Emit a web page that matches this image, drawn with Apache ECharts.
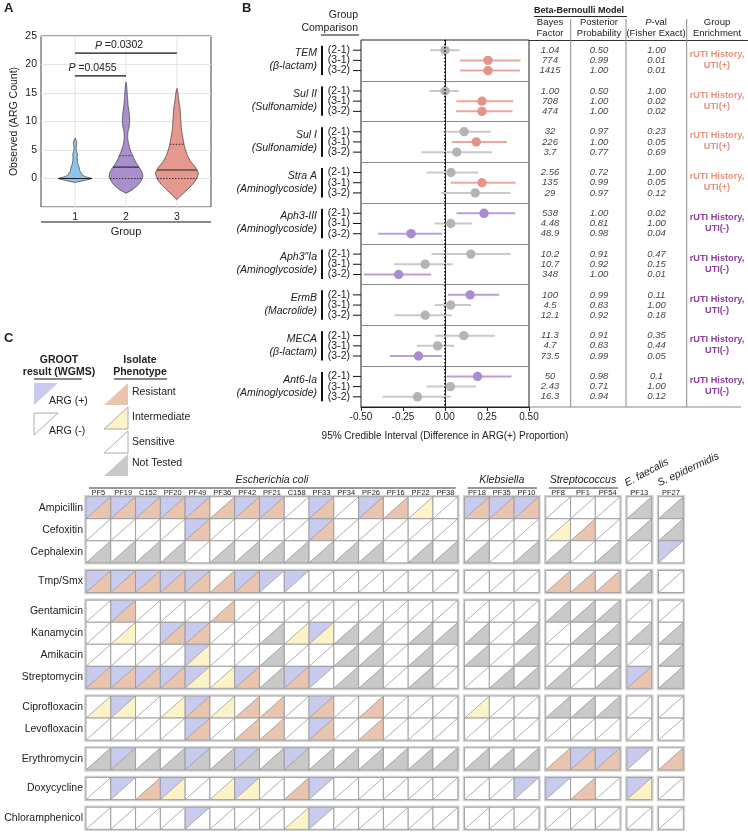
<!DOCTYPE html>
<html>
<head>
<meta charset="utf-8">
<script src="https://cdn.jsdelivr.net/npm/echarts@6/dist/echarts.min.js"></script>
<style>
html, body { margin: 0; padding: 0; background: #fff; }
#chart { width: 748px; height: 838px; }
</style>
</head>
<body>
<div id="chart"></div>
<script>
const FONT = '"Liberation Sans", Arial, Helvetica, sans-serif';
const INK = '#222';

// ---------- A: ARG count per group (violins) ----------
const groupIds = [1, 2, 3];
const violinFill = ['#8fc4ea', '#a98fcb', '#e4988e'];
// violin outline: ARG count levels and half widths (group units)
const violinLevels = [
  [-0.7, -0.3, 0, 0.3, 0.7, 1.0, 1.4, 1.8, 2.2, 2.7, 3.2, 3.7, 4.2, 4.7, 5.2, 5.7, 6.2, 6.7, 7.1],
  [-2.6, -2.0, -1.2, -0.5, 0.3, 1.0, 1.8, 2.6, 3.4, 4.2, 5.0, 5.8, 6.6, 7.4, 8.2, 9.0, 9.8, 10.6, 11.4, 12.2, 13.0, 13.8, 14.6, 15.4, 16.2, 16.9],
  [-3.7, -3.0, -2.0, -1.0, 0, 1.0, 2.0, 3.0, 4.0, 5.0, 6.0, 7.0, 8.0, 9.0, 10.0, 11.0, 12.0, 13.0, 14.0, 15.0, 15.8]
];
const violinHalfWidths = [
  [0, 0.20, 0.33, 0.21, 0.13, 0.12, 0.09, 0.085, 0.07, 0.05, 0.045, 0.04, 0.045, 0.033, 0.02, 0.026, 0.033, 0.02, 0],
  [0, 0.12, 0.23, 0.29, 0.33, 0.32, 0.27, 0.21, 0.16, 0.12, 0.085, 0.06, 0.04, 0.033, 0.04, 0.06, 0.07, 0.07, 0.065, 0.05, 0.04, 0.033, 0.026, 0.02, 0.013, 0],
  [0, 0.08, 0.20, 0.31, 0.39, 0.42, 0.36, 0.27, 0.21, 0.17, 0.14, 0.12, 0.10, 0.085, 0.08, 0.07, 0.065, 0.05, 0.033, 0.02, 0]
];
const violinMedian = [0, 2, 1.5];
const violinQ1 = [0, 0, 0];
const violinQ3 = [0, 4, 6];
const testFrom = [1, 1];
const testTo = [2, 3];
const testLevel = [18, 22];
const testP = ['0.0455', '0.0302'];

// ---------- B: Beta-Bernoulli model ----------
const genes = ['TEM', 'Sul II', 'Sul I', 'Stra A', 'Aph3-III', 'Aph3\u2033Ia', 'ErmB', 'MECA', 'Ant6-Ia'];
const geneClass = ['(\u03b2-lactam)', '(Sulfonamide)', '(Sulfonamide)', '(Aminoglycoside)', '(Aminoglycoside)',
  '(Aminoglycoside)', '(Macrolide)', '(\u03b2-lactam)', '(Aminoglycoside)'];
const comparisons = ['(2-1)', '(3-1)', '(3-2)'];
const diffMean = [0.00, 0.256, 0.256, 0.00, 0.22, 0.22, 0.114, 0.186, 0.07, 0.036, 0.22, 0.18,
  0.232, 0.034, -0.202, 0.154, -0.118, -0.276, 0.15, 0.034, -0.118, 0.112, -0.044, -0.158, 0.194, 0.032, -0.164];
const diffLow = [-0.088, 0.09, 0.09, -0.092, 0.068, 0.066, -0.01, 0.04, -0.14, -0.11, 0.034, -0.022,
  0.068, -0.062, -0.398, -0.08, -0.304, -0.482, 0.018, -0.06, -0.30, -0.058, -0.168, -0.328, 0.01, -0.11, -0.372];
const diffHigh = [0.086, 0.45, 0.446, 0.082, 0.406, 0.402, 0.272, 0.368, 0.28, 0.198, 0.42, 0.39,
  0.418, 0.16, -0.018, 0.39, 0.046, -0.082, 0.322, 0.154, 0.04, 0.298, 0.054, -0.02, 0.396, 0.184, 0.034];
// 0 = not enriched, 1 = UTI(+), 2 = UTI(-)
const enrichedFlag = [0, 1, 1, 0, 1, 1, 0, 1, 0, 0, 1, 0, 2, 0, 2, 0, 0, 2, 2, 0, 0, 0, 0, 2, 2, 0, 0];
const bayesFactor = ['1.04', '774', '1415', '1.00', '708', '474', '32', '226', '3.7', '2.56', '135', '29',
  '538', '4.48', '48.9', '10.2', '10.7', '348', '100', '4.5', '12.1', '11.3', '4.7', '73.5', '50', '2.43', '16.3'];
const posteriorProb = ['0.50', '0.99', '1.00', '0.50', '1.00', '1.00', '0.97', '1.00', '0.77', '0.72', '0.99', '0.97',
  '1.00', '0.81', '0.98', '0.91', '0.92', '1.00', '0.99', '0.83', '0.92', '0.91', '0.83', '0.99', '0.98', '0.71', '0.94'];
const fisherP = ['1.00', '0.01', '0.01', '1.00', '0.02', '0.02', '0.23', '0.05', '0.69', '1.00', '0.05', '0.12',
  '0.02', '1.00', '0.04', '0.47', '0.15', '0.01', '0.11', '1.00', '0.18', '0.35', '0.44', '0.05', '0.1', '1.00', '0.12'];
const geneEnrichment = ['UTI(+)', 'UTI(+)', 'UTI(+)', 'UTI(+)', 'UTI(-)', 'UTI(-)', 'UTI(-)', 'UTI(-)', 'UTI(-)'];

// ---------- C: GROOT result vs isolate phenotype ----------
const isolates = ['PF5', 'PF19', 'C152', 'PF20', 'PF49', 'PF36', 'PF42', 'PF21', 'C158', 'PF33', 'PF34', 'PF26', 'PF16', 'PF22', 'PF38',
  'PF18', 'PF35', 'PF10', 'PF8', 'PF1', 'PF54', 'PF13', 'PF27'];
const species = ['Escherichia coli', 'Klebsiella', 'Streptococcus', 'E. faecalis', 'S. epidermidis'];
const speciesSize = [15, 3, 3, 1, 1];
const antibiotics = ['Ampicillin', 'Cefoxitin', 'Cephalexin', 'Tmp/Smx', 'Gentamicin', 'Kanamycin', 'Amikacin',
  'Streptomycin', 'Ciprofloxacin', 'Levofloxacin', 'Erythromycin', 'Doxycycline', 'Chloramphenicol'];
const antibioticBlockSize = [3, 1, 4, 2, 1, 1, 1];
// one character per isolate: + ARG detected, - not detected
const argCalls = [
  '+++++-++-+-+---+++-----',
  '----+----+-------------',
  '----------------------+',
  '+++++-+++--------------',
  '-+---------------------',
  '---++----+-------------',
  '----+------------------',
  '+++++-+-++-----------+-',
  '-+--+----+-------------',
  '----+----+-------------',
  '-+--+-+-+----------+++-',
  '-+-+--+--+-------++--+-',
  '----+----+-------------'
];
// R resistant, I intermediate, S sensitive, N not tested
const phenotypes = [
  'RRRRRRRRSRSRRISRRRSSSNN',
  'SSSSRSSSSRSSSSSSSSIRSNN',
  'NNNNSNNNNNNNSNNNSNNSNSS',
  'RRRRRRRSSSSSSSSSSSRRRNS',
  'SRSSSRSSSSSSSSSSSSNNNSS',
  'SISRRSSNIINNSNNNSNSNNNN',
  'SSSSISSNSSNNSNSNSNSNNSN',
  'RRRRIIRNRSNNSNSSNNNSNRN',
  'IISIRIRRSRSRSSSISSNNNSS',
  'SSSSRSRRSRSRSSSSSSSSSSS',
  'NNNNNNNNNNNNNNNNNNRRRSR',
  'SSRISIISRSSSSSSSSSSRSIS',
  'SSSSSSSSISSSSSSSSSSSSSS'
];

const argFill = { '+': '#c8cbed', '-': '#ffffff' };
const phenoFill = { R: '#e9c4ae', I: '#fcf3c8', S: '#ffffff', N: '#c9c9c9' };
const COL_GAP = 0.275;
const ROW_GAP = 0.35;

function groupOf(sizes, idx) {
  let acc = 0;
  for (let g = 0; g < sizes.length; g++) {
    acc += sizes[g];
    if (idx < acc) return g;
  }
  return sizes.length - 1;
}
const colPos = c => c + groupOf(speciesSize, c) * COL_GAP;
const rowPos = r => r + groupOf(antibioticBlockSize, r) * ROW_GAP;
const gridUnitsX = isolates.length + (speciesSize.length - 1) * COL_GAP;
const gridUnitsY = antibiotics.length + (antibioticBlockSize.length - 1) * ROW_GAP;

function halfWidthAt(levels, widths, y) {
  for (let j = 0; j < levels.length - 1; j++) {
    if (y >= levels[j] && y <= levels[j + 1]) {
      const t = (y - levels[j]) / (levels[j + 1] - levels[j]);
      return widths[j] + t * (widths[j + 1] - widths[j]);
    }
  }
  return 0;
}

function txt(x, y, text, extra) {
  return Object.assign({ type: 'text', x: x, y: y, silent: true,
    style: Object.assign({ text: text, fill: INK, fontSize: 10.5, fontFamily: FONT, align: 'left', verticalAlign: 'middle' }, extra || {}) });
}
function seg(x1, y1, x2, y2, stroke, w) {
  return { type: 'line', silent: true, shape: { x1: x1, y1: y1, x2: x2, y2: y2 }, style: { stroke: stroke, lineWidth: w } };
}

// forest rows: 4 slots per gene, slot 0 is the separator
const forestSlots = [];
for (let g = 0; g <= genes.length * 4; g++) forestSlots.push(g % 4 === 0 ? '' : comparisons[g % 4 - 1]);
const forestData = diffMean.map((m, i) => [m, Math.floor(i / 3) * 4 + (i % 3) + 1, diffLow[i], diffHigh[i]]);
const dotColor = ['#b4b4b4', '#e3958b', '#a98bd1'];
const barColor = ['#c9c9c9', '#eba79f', '#b99fdc'];
const enrichColor = { 'UTI(+)': '#e8927f', 'UTI(-)': '#8e3f9f' };

// cells
const cellData = [];
const cellInfo = [];
antibiotics.forEach((ab, r) => {
  isolates.forEach((iso, c) => {
    cellData.push([colPos(c), rowPos(r)]);
    cellInfo.push([argCalls[r][c], phenotypes[r][c]]);
  });
});
const blockData = [];
speciesSize.forEach((sw, s) => {
  const c0 = speciesSize.slice(0, s).reduce((a, b) => a + b, 0);
  antibioticBlockSize.forEach((rh, b) => {
    const r0 = antibioticBlockSize.slice(0, b).reduce((a, b2) => a + b2, 0);
    blockData.push([colPos(c0), rowPos(r0), sw, rh]);
  });
});

const chart = echarts.init(document.getElementById('chart'));

const legendTri = (pts, fill, stroke) => ({ type: 'polygon', silent: true, shape: { points: pts },
  style: { fill: fill, stroke: stroke || null, lineWidth: 0.8 } });

const option = {
  animation: false,
  textStyle: { fontFamily: FONT },
  grid: [
    { left: 41, top: 36, width: 170, height: 171, show: true, borderColor: '#444', borderWidth: 1, backgroundColor: 'transparent' },
    { left: 361, top: 40, width: 168, height: 367, show: true, borderColor: '#222', borderWidth: 1, backgroundColor: 'transparent' },
    { left: 529, top: 40, width: 219, height: 367, show: false },
    { left: 86, top: 496.7, width: 597.3, height: 332.6, show: false }
  ],
  xAxis: [
    { type: 'value', gridIndex: 0, min: 0.33, max: 3.67,
      axisLine: { show: false }, axisTick: { show: true, customValues: groupIds, length: 3, lineStyle: { color: '#444' } },
      axisLabel: { customValues: groupIds, color: INK, fontSize: 10.5, margin: 5 },
      splitLine: { show: false } },
    { type: 'value', gridIndex: 1, min: -0.5, max: 0.5, interval: 0.25,
      axisLine: { show: true, lineStyle: { color: '#222' } }, axisTick: { show: true, length: 4, lineStyle: { color: '#222' } },
      axisLabel: { color: INK, fontSize: 10, margin: 5, formatter: v => v.toFixed(2) },
      splitLine: { show: false },
      name: '95% Credible Interval (Difference in ARG(+) Proportion)', nameLocation: 'middle', nameGap: 24,
      nameTextStyle: { color: INK, fontSize: 10 } },
    { type: 'value', gridIndex: 2, min: 0, max: 219, show: false },
    { type: 'value', gridIndex: 3, min: 0, max: gridUnitsX, show: false }
  ],
  yAxis: [
    { type: 'value', gridIndex: 0, min: -5, max: 25, interval: 5,
      axisLine: { show: false }, axisTick: { show: false },
      axisLabel: { color: INK, fontSize: 10.5, margin: 4, formatter: v => (v < 0 ? '' : String(v)) },
      splitLine: { show: true, lineStyle: { color: '#e4e4e4' } },
      name: 'Observed (ARG Count)', nameLocation: 'middle', nameGap: 21, nameTextStyle: { color: INK, fontSize: 10.5 } },
    { type: 'category', gridIndex: 1, data: forestSlots, boundaryGap: false, inverse: true,
      axisLine: { show: true, lineStyle: { color: '#222' } },
      axisTick: { show: false }, axisLabel: { show: false },
      splitLine: { show: true, interval: (i, v) => v === '' && i > 0 && i < forestSlots.length - 1, lineStyle: { color: '#8a8a8a' } } },
    { type: 'category', gridIndex: 2, data: forestSlots, boundaryGap: false, inverse: true, show: false },
    { type: 'value', gridIndex: 3, min: 0, max: gridUnitsY, inverse: true, show: false }
  ],
  series: [
    // ---- A: vertical grid lines at each group ----
    { type: 'custom', xAxisIndex: 0, yAxisIndex: 0, z: 1, silent: true,
      data: groupIds.map(g => [g]),
      renderItem(params, api) {
        const a = api.coord([api.value(0), -5]);
        const b = api.coord([api.value(0), 25]);
        return seg(a[0], a[1], b[0], b[1], '#e4e4e4', 1);
      } },
    // ---- A: violins ----
    { type: 'custom', xAxisIndex: 0, yAxisIndex: 0, z: 3,
      data: groupIds.map((g, i) => [g, i]),
      renderItem(params, api) {
        const i = params.dataIndex;
        const x = api.value(0);
        const lv = violinLevels[i], hw = violinHalfWidths[i];
        const right = lv.map((y, j) => api.coord([x + hw[j], y]));
        const left = lv.map((y, j) => api.coord([x - hw[j], y])).reverse();
        const children = [{ type: 'polygon', shape: { points: right.concat(left), smooth: 0.2 },
          style: { fill: violinFill[i], stroke: '#3a3a3a', lineWidth: 0.7 } }];
        const stat = (yv, dash, w) => {
          const h = halfWidthAt(lv, hw, yv);
          const a = api.coord([x - h, yv]), b = api.coord([x + h, yv]);
          children.push({ type: 'line', shape: { x1: a[0], y1: a[1], x2: b[0], y2: b[1] },
            style: { stroke: '#222', lineWidth: w, lineDash: dash } });
        };
        stat(violinQ1[i], [1.5, 1.5], 0.9);
        stat(violinQ3[i], [1.5, 1.5], 0.9);
        stat(violinMedian[i], null, 1.1);
        return { type: 'group', children: children };
      } },
    // ---- A: significance brackets ----
    { type: 'custom', xAxisIndex: 0, yAxisIndex: 0, z: 4,
      data: testFrom.map((f, i) => [f, testTo[i], testLevel[i]]),
      renderItem(params, api) {
        const i = params.dataIndex;
        const a = api.coord([api.value(0), api.value(2)]);
        const b = api.coord([api.value(1), api.value(2)]);
        return { type: 'group', children: [
          seg(a[0], a[1], b[0], b[1], '#111', 1.2),
          { type: 'text', x: (a[0] + b[0]) / 2 + (i === 0 ? -8 : -7), y: a[1] - 2,
            style: { text: '{i|P} =' + testP[i], rich: { i: { fontStyle: 'italic', fontSize: 10.5, fontFamily: FONT, fill: INK } },
              fill: INK, fontSize: 10.5, fontFamily: FONT, align: 'center', verticalAlign: 'bottom' } }
        ] };
      } },
    // ---- B: credible intervals ----
    { type: 'custom', xAxisIndex: 1, yAxisIndex: 1, z: 3,
      data: forestData,
      renderItem(params, api) {
        const f = enrichedFlag[params.dataIndex];
        const k = api.value(1);
        const c = api.coord([api.value(0), k]);
        const lo = api.coord([api.value(2), k]);
        const hi = api.coord([api.value(3), k]);
        return { type: 'group', children: [
          { type: 'line', shape: { x1: lo[0], y1: c[1], x2: hi[0], y2: c[1] }, style: { stroke: barColor[f], lineWidth: 2 } },
          { type: 'circle', shape: { cx: c[0], cy: c[1], r: 4.7 }, style: { fill: dotColor[f] } }
        ] };
      } },
    // ---- B: zero reference ----
    { type: 'line', xAxisIndex: 1, yAxisIndex: 1, silent: true, symbol: 'none', z: 5,
      data: [[0, 0], [0, forestSlots.length - 1]],
      lineStyle: { color: '#111', width: 1.6, type: [1.5, 2] } },
    // ---- B: gene and comparison labels ----
    { type: 'custom', xAxisIndex: 1, yAxisIndex: 1, z: 3,
      data: genes.map((g, i) => [-0.5, i * 4 + 2]),
      renderItem(params, api) {
        const i = params.dataIndex;
        const k = api.value(1);
        const p = api.coord([-0.5, k]);
        const top = api.coord([-0.5, k - 1])[1];
        const bot = api.coord([-0.5, k + 1])[1];
        const children = [
          txt(p[0] - 44, p[1] - 7, genes[i], { align: 'right', fontStyle: 'italic' }),
          txt(p[0] - 44, p[1] + 6, geneClass[i], { align: 'right', fontStyle: 'italic' }),
          { type: 'rect', shape: { x: p[0] - 40, y: top - 4.5, width: 2, height: bot - top + 9 }, style: { fill: '#111' } }
        ];
        comparisons.forEach((cmp, j) => {
          const y = api.coord([-0.5, k - 1 + j])[1];
          children.push(txt(p[0] - 11, y, cmp, { align: 'right' }));
          children.push(seg(p[0] - 8, y, p[0], y, '#111', 1));
        });
        return { type: 'group', children: children };
      } },
    // ---- B: table values ----
    { type: 'custom', xAxisIndex: 2, yAxisIndex: 2, z: 3,
      data: forestData.map(d => [0, d[1]]),
      renderItem(params, api) {
        const i = params.dataIndex;
        const y = api.coord([0, api.value(1)])[1];
        const x0 = params.coordSys.x;
        const cell = (s, cx) => txt(x0 + cx, y, s, { align: 'center', fontStyle: 'italic', fontSize: 9.5, fill: '#454545' });
        return { type: 'group', children: [cell(bayesFactor[i], 21), cell(posteriorProb[i], 70), cell(fisherP[i], 127.5)] };
      } },
    { type: 'custom', xAxisIndex: 2, yAxisIndex: 2, z: 3,
      data: genes.map((g, i) => [0, i * 4 + 2]),
      renderItem(params, api) {
        const i = params.dataIndex;
        const y = api.coord([0, api.value(1)])[1];
        const x = params.coordSys.x + 188;
        const col = enrichColor[geneEnrichment[i]];
        return { type: 'group', children: [
          txt(x, y - 6, 'rUTI History,', { align: 'center', fontWeight: 'bold', fontSize: 9.2, fill: col }),
          txt(x, y + 5, geneEnrichment[i], { align: 'center', fontWeight: 'bold', fontSize: 9.2, fill: col })
        ] };
      } },
    // ---- C: block outlines ----
    { type: 'custom', xAxisIndex: 3, yAxisIndex: 3, z: 2,
      data: blockData,
      renderItem(params, api) {
        const a = api.coord([api.value(0), api.value(1)]);
        const b = api.coord([api.value(0) + api.value(2), api.value(1) + api.value(3)]);
        return { type: 'rect', shape: { x: a[0] - 1, y: a[1] - 1, width: b[0] - a[0] + 2, height: b[1] - a[1] + 2 },
          style: { fill: null, stroke: '#d2d2d2', lineWidth: 1.6 } };
      } },
    // ---- C: cells ----
    { type: 'custom', xAxisIndex: 3, yAxisIndex: 3, z: 3,
      data: cellData,
      renderItem(params, api) {
        const info = cellInfo[params.dataIndex];
        const a = api.coord([api.value(0), api.value(1)]);
        const b = api.coord([api.value(0) + 1, api.value(1) + 1]);
        return { type: 'group', children: [
          { type: 'polygon', shape: { points: [[a[0], a[1]], [b[0], a[1]], [a[0], b[1]]] }, style: { fill: argFill[info[0]] } },
          { type: 'polygon', shape: { points: [[b[0], a[1]], [b[0], b[1]], [a[0], b[1]]] }, style: { fill: phenoFill[info[1]] } },
          { type: 'line', shape: { x1: a[0], y1: b[1], x2: b[0], y2: a[1] }, style: { stroke: '#8c8c8c', lineWidth: 0.7 } },
          { type: 'rect', shape: { x: a[0], y: a[1], width: b[0] - a[0], height: b[1] - a[1] },
            style: { fill: null, stroke: '#9a9a9a', lineWidth: 0.9 } }
        ] };
      } },
    // ---- C: row, column and species labels ----
    { type: 'custom', xAxisIndex: 3, yAxisIndex: 3, z: 3,
      data: [[0, 0]],
      renderItem(params, api) {
        const children = [];
        antibiotics.forEach((ab, r) => {
          const p = api.coord([0, rowPos(r) + 0.5]);
          children.push(txt(p[0] - 3, p[1], ab, { align: 'right' }));
        });
        isolates.forEach((iso, c) => {
          const p = api.coord([colPos(c) + 0.5, 0]);
          children.push(txt(p[0], p[1] - 3.5, iso, { align: 'center', fontSize: 7.5 }));
        });
        let c0 = 0;
        speciesSize.forEach((n, s) => {
          const xl = api.coord([colPos(c0), 0]);
          const xr = api.coord([colPos(c0) + n, 0]);
          if (s < 3) {
            children.push(txt((xl[0] + xr[0]) / 2, xl[1] - 17, species[s], { align: 'center', fontStyle: 'italic' }));
            children.push(seg(xl[0] + 3, xl[1] - 8.7, xr[0] - 2, xl[1] - 8.7, '#333', 1));
          } else {
            const t = txt(xl[0] + (s === 3 ? 1 : 2), xl[1] - 8, species[s], { fontStyle: 'italic', verticalAlign: 'bottom' });
            t.rotation = (s === 3 ? 28 : 25) * Math.PI / 180;
            children.push(t);
          }
          c0 += n;
        });
        return { type: 'group', children: children };
      } }
  ],
  graphic: [
    // panel letters
    txt(4, 8, 'A', { fontWeight: 'bold', fontSize: 13 }),
    txt(242, 8, 'B', { fontWeight: 'bold', fontSize: 13 }),
    txt(4, 338, 'C', { fontWeight: 'bold', fontSize: 13 }),
    // A: group axis
    seg(41, 222, 211, 222, '#111', 1.2),
    txt(126, 232, 'Group', { align: 'center', fontSize: 11 }),
    // B: headers
    txt(358, 15, 'Group', { align: 'right' }),
    txt(358, 28, 'Comparison', { align: 'right' }),
    seg(321, 35, 359, 35, '#111', 1.2),
    txt(534, 10.7, 'Beta-Bernoulli Model', { fontWeight: 'bold', fontSize: 9 }),
    seg(534, 16.5, 627, 16.5, '#111', 0.9),
    txt(550, 22.7, 'Bayes', { align: 'center', fontSize: 9.5 }),
    txt(550, 33.3, 'Factor', { align: 'center', fontSize: 9.5 }),
    txt(599, 22.7, 'Posterior', { align: 'center', fontSize: 9.5 }),
    txt(599, 33.3, 'Probability', { align: 'center', fontSize: 9.5 }),
    txt(656, 22.7, '{i|P}-val', { align: 'center', fontSize: 9.5,
      rich: { i: { fontStyle: 'italic', fontSize: 9.5, fontFamily: FONT, fill: INK } } }),
    txt(656, 33.3, '(Fisher Exact)', { align: 'center', fontSize: 9.5 }),
    txt(717, 22.7, 'Group', { align: 'center', fontSize: 9.5 }),
    txt(717, 33.3, 'Enrichment', { align: 'center', fontSize: 9.5 }),
    seg(529, 40.5, 748, 40.5, '#333', 1),
    seg(529, 407, 741, 407, '#888', 1),
    seg(570.7, 19, 570.7, 407, '#888', 1),
    seg(626, 19, 626, 407, '#888', 1),
    seg(686.7, 19, 686.7, 407, '#888', 1),
    // C: legend
    txt(59, 360, 'GROOT', { align: 'center', fontWeight: 'bold' }),
    txt(59, 372, 'result (WGMS)', { align: 'center', fontWeight: 'bold' }),
    seg(34, 379, 82, 379, '#111', 1.2),
    txt(140, 360, 'Isolate', { align: 'center', fontWeight: 'bold' }),
    txt(140, 372, 'Phenotype', { align: 'center', fontWeight: 'bold' }),
    seg(114, 379, 167, 379, '#111', 1.2),
    legendTri([[34, 383], [58, 383], [34, 405]], argFill['+']),
    txt(49, 401, 'ARG (+)'),
    legendTri([[34, 413], [58, 413], [34, 435]], '#fff', '#999'),
    txt(49, 431, 'ARG (-)'),
    legendTri([[128, 383], [128, 405], [104, 405]], phenoFill.R),
    txt(132, 392, 'Resistant'),
    legendTri([[128, 407], [128, 429], [104, 429]], phenoFill.I, '#999'),
    txt(132, 417, 'Intermediate'),
    legendTri([[128, 431], [128, 453], [104, 453]], '#fff', '#999'),
    txt(132, 442, 'Sensitive'),
    legendTri([[128, 454], [128, 476], [104, 476]], phenoFill.N),
    txt(132, 463, 'Not Tested')
  ]
};

chart.setOption(option);
</script>
</body>
</html>
